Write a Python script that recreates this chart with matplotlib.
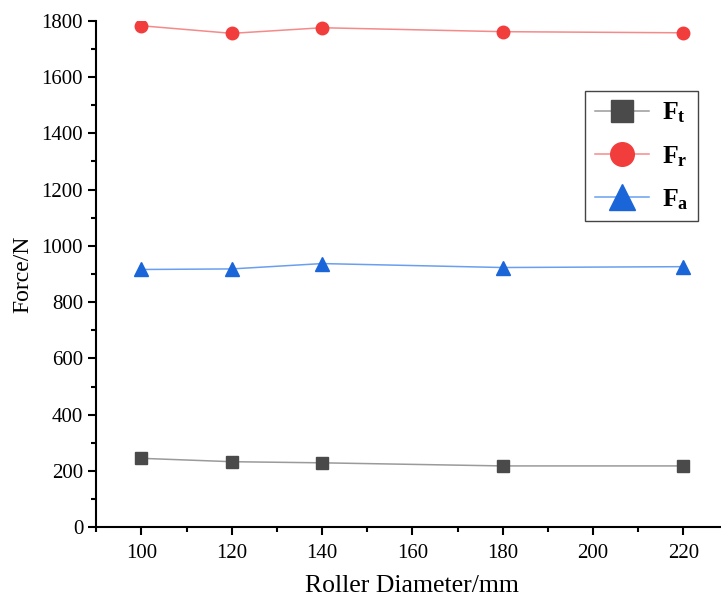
import matplotlib
matplotlib.use("Agg")
import matplotlib.pyplot as plt
from matplotlib.ticker import MultipleLocator
from matplotlib.lines import Line2D

plt.rcParams['font.family'] = ['Liberation Serif', 'DejaVu Serif']
plt.rcParams['mathtext.fontset'] = 'custom'
plt.rcParams['mathtext.rm'] = 'Liberation Serif'
plt.rcParams['mathtext.bf'] = 'Liberation Serif:bold'
plt.rcParams['mathtext.it'] = 'Liberation Serif:italic'

diameter = [100, 120, 140, 180, 220]
f_t = [245, 233, 229, 218, 218]
f_r = [1782, 1755, 1775, 1761, 1757]
f_a = [916, 918, 937, 923, 926]
labels = [r'$\mathbf{F_t}$', r'$\mathbf{F_r}$', r'$\mathbf{F_a}$']

styles = [
    dict(color='#9a9a9a', marker='s', mfc='#4a4a4a', mec='#4a4a4a'),
    dict(color='#f58a8a', marker='o', mfc='#f23d3d', mec='#f23d3d'),
    dict(color='#6a9ff0', marker='^', mfc='#1a66d9', mec='#1a66d9'),
]
plot_ms = [8, 9, 10]
legend_ms = [16, 17, 19]

fig = plt.figure(figsize=(7.21, 6.0), dpi=100)
ax = fig.add_axes([0.1336, 0.1212, 0.8767, 0.8443])

for ys, st, ms, lab in zip([f_t, f_r, f_a], styles, plot_ms, labels):
    ax.plot(diameter, ys, lw=1.1, ms=ms, label=lab, **st)

ax.set_xlim(90, 230)
ax.set_ylim(0, 1800)
ax.set_xticks(range(100, 221, 20))
ax.xaxis.set_minor_locator(MultipleLocator(10))
ax.yaxis.set_major_locator(MultipleLocator(200))
ax.yaxis.set_minor_locator(MultipleLocator(100))

for side in ('top', 'right'):
    ax.spines[side].set_visible(False)
for side in ('left', 'bottom'):
    ax.spines[side].set_linewidth(1.5)
ax.tick_params(which='major', direction='out', length=6, width=1.5, labelsize=15)
ax.tick_params(which='minor', direction='out', length=3.5, width=1.5)
ax.tick_params(axis='x', pad=6)

ax.set_xlabel('Roller Diameter/mm', fontsize=18.5, labelpad=9)
ax.set_ylabel('Force/N', fontsize=17, labelpad=6)

handles = [Line2D([], [], lw=1.1, ms=ms, **st) for st, ms in zip(styles, legend_ms)]
leg = ax.legend(handles, labels, loc='upper left', bbox_to_anchor=(0.773, 0.861),
                borderaxespad=0, fontsize=18.5, fancybox=False, framealpha=1,
                edgecolor='#444444', handlelength=2.1, handletextpad=0.5,
                borderpad=0.38, labelspacing=0.72)
leg.get_frame().set_linewidth(1.0)

fig.savefig('out.png', dpi=100)
